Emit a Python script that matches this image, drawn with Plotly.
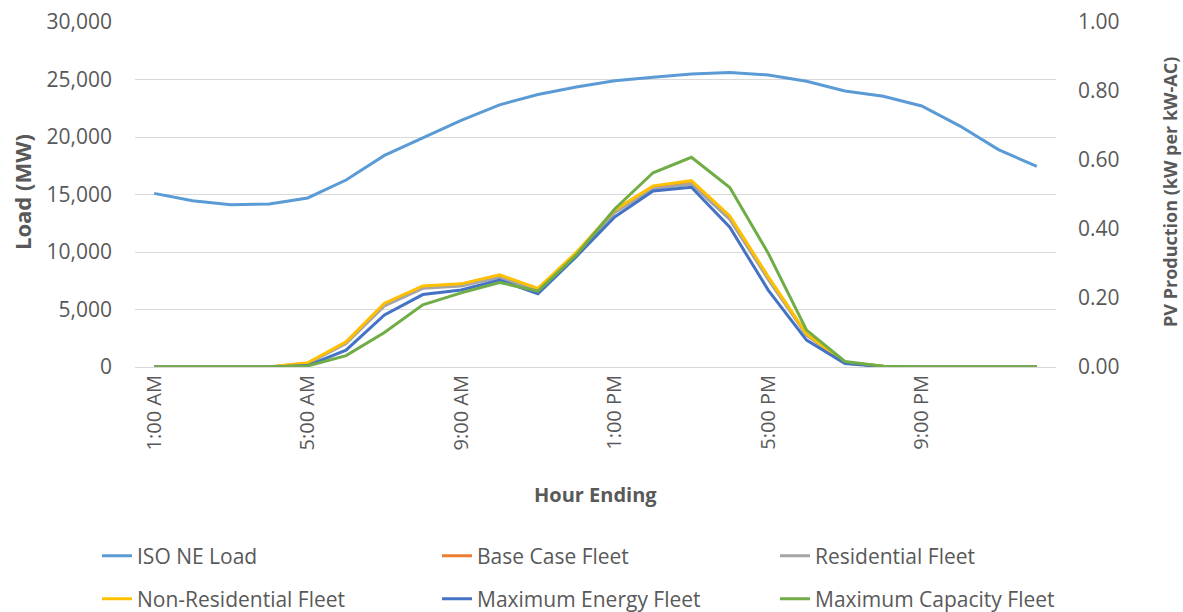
import plotly.graph_objects as go

hours = ["1:00 AM", "2:00 AM", "3:00 AM", "4:00 AM", "5:00 AM", "6:00 AM",
         "7:00 AM", "8:00 AM", "9:00 AM", "10:00 AM", "11:00 AM", "12:00 PM",
         "1:00 PM", "2:00 PM", "3:00 PM", "4:00 PM", "5:00 PM", "6:00 PM",
         "7:00 PM", "8:00 PM", "9:00 PM", "10:00 PM", "11:00 PM", "12:00 AM"]
tick_hours = ["1:00 AM", "5:00 AM", "9:00 AM", "1:00 PM", "5:00 PM", "9:00 PM"]

iso_ne_load = [15100, 14450, 14100, 14170, 14700, 16260, 18400, 19950, 21450, 22800,
               23700, 24350, 24900, 25200, 25480, 25600, 25400, 24850, 24000, 23550,
               22700, 20950, 18900, 17450]
base_case = [0, 0, 0, 0, 0.011, 0.071, 0.182, 0.233, 0.240, 0.266, 0.226, 0.330,
             0.452, 0.522, 0.537, 0.435, 0.260, 0.095, 0.013, 0.002, 0, 0, 0, 0]
residential = [0, 0, 0, 0, 0.010, 0.068, 0.177, 0.228, 0.235, 0.260, 0.222, 0.328,
               0.448, 0.517, 0.530, 0.428, 0.254, 0.092, 0.012, 0.002, 0, 0, 0, 0]
non_residential = [0, 0, 0, 0, 0.012, 0.073, 0.185, 0.235, 0.241, 0.267, 0.228, 0.332,
                   0.455, 0.525, 0.540, 0.438, 0.262, 0.096, 0.013, 0.002, 0, 0, 0, 0]
max_energy = [0, 0, 0, 0, 0.004, 0.049, 0.151, 0.210, 0.223, 0.252, 0.212, 0.320,
              0.435, 0.510, 0.521, 0.405, 0.223, 0.078, 0.010, 0.001, 0, 0, 0, 0]
max_capacity = [0, 0, 0, 0, 0.003, 0.033, 0.100, 0.180, 0.215, 0.245, 0.220, 0.325,
                0.458, 0.563, 0.608, 0.520, 0.330, 0.107, 0.016, 0.002, 0, 0, 0, 0]

series = [
    ("Base Case Fleet", base_case, "#ED7D31", "legend2"),
    ("Residential Fleet", residential, "#A5A5A5", "legend3"),
    ("Non-Residential Fleet", non_residential, "#FFC000", "legend4"),
    ("Maximum Energy Fleet", max_energy, "#4472C4", "legend5"),
    ("Maximum Capacity Fleet", max_capacity, "#70AD47", "legend6"),
]

FONT = "Open Sans"
GRAY = "#595959"

fig = go.Figure()
fig.add_trace(go.Scatter(x=hours, y=iso_ne_load, name="ISO NE Load", mode="lines",
                         line=dict(color="#5B9BD5", width=3), legend="legend"))
for name, vals, color, lg in series:
    fig.add_trace(go.Scatter(x=hours, y=vals, name=name, mode="lines",
                             line=dict(color=color, width=3), yaxis="y2", legend=lg))

L, R, T, B = 135, 127, 22, 245
W, H = 1183, 612
pw, ph = W - L - R, H - T - B

def px(x):
    return (x - L) / pw

def py(y):
    return (H - B - y) / ph

leg_common = dict(orientation="h", font=dict(family=FONT, size=21, color=GRAY),
                  bgcolor="rgba(0,0,0,0)", xanchor="left", yanchor="middle",
                  itemwidth=30)
legpos = [(97, 556), (437, 556), (775, 556), (97, 599), (437, 599), (775, 599)]
legkeys = ["legend", "legend2", "legend3", "legend4", "legend5", "legend6"]

layout = dict(
    width=W, height=H,
    margin=dict(l=L, r=R, t=T, b=B, autoexpand=False),
    paper_bgcolor="white", plot_bgcolor="white",
    font=dict(family=FONT, size=20, color=GRAY),
    showlegend=True,
    xaxis=dict(type="category", tickmode="array", tickvals=tick_hours, ticktext=tick_hours,
               tickangle=-90, showgrid=False, showline=False, zeroline=False,
               ticks="", tickfont=dict(family=FONT, size=20, color=GRAY),
               range=[-0.5, 23.5], automargin=False, ticklabelstandoff=3),
    yaxis=dict(range=[0, 30000], dtick=5000, tickformat=",d", showgrid=True,
               gridcolor="#D9D9D9", gridwidth=1, zeroline=True, zerolinecolor="#D9D9D9",
               zerolinewidth=1, showline=False, ticks="", automargin=False,
               ticklabelstandoff=22,
               tickfont=dict(family=FONT, size=21, color=GRAY)),
    yaxis2=dict(range=[0, 1], dtick=0.2, tickformat=".2f", overlaying="y", side="right",
                showgrid=False, zeroline=False, showline=False, ticks="", automargin=False,
                ticklabelstandoff=21,
                tickfont=dict(family=FONT, size=21, color=GRAY)),
    annotations=[
        dict(text="<b>Hour Ending</b>", x=px(595), y=py(494), xref="paper", yref="paper",
             showarrow=False, font=dict(family=FONT, size=20, color=GRAY),
             xanchor="center", yanchor="middle"),
        dict(text="<b>Load (MW)</b>", x=px(22), y=py(192), xref="paper", yref="paper",
             showarrow=False, textangle=-90, font=dict(family=FONT, size=22, color=GRAY),
             xanchor="center", yanchor="middle"),
        dict(text="<b>PV Production (kW per kW-AC)</b>", x=px(1170), y=py(192),
             xref="paper", yref="paper", showarrow=False, textangle=-90,
             font=dict(family=FONT, size=18, color=GRAY),
             xanchor="center", yanchor="middle"),
    ],
)
for key, (lx, ly) in zip(legkeys, legpos):
    layout[key] = dict(leg_common, x=px(lx), y=py(ly))

fig.update_layout(**layout)
fig.write_html("out.html", config={"displayModeBar": False},
               post_script="document.body.style.margin='0';")
